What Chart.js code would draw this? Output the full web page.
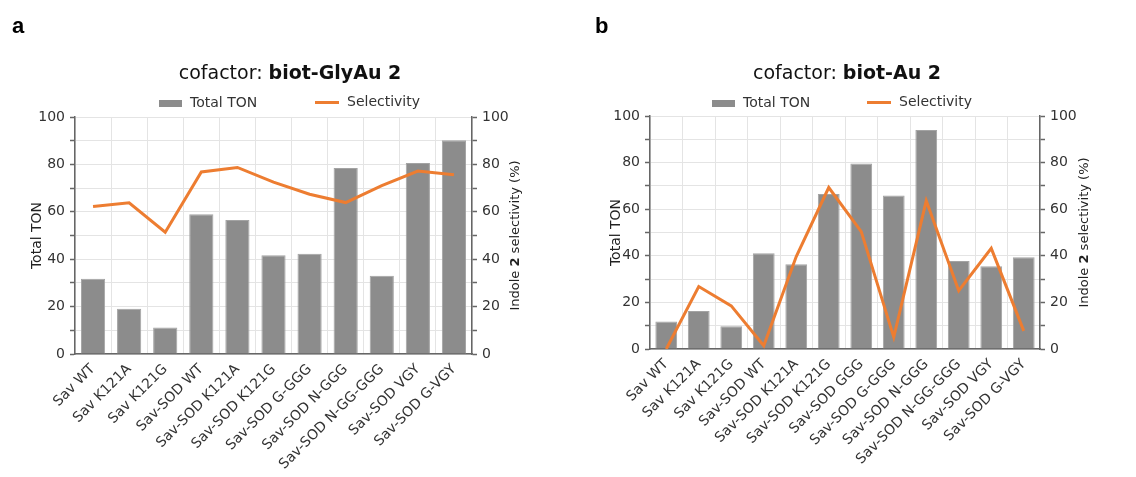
<!DOCTYPE html>
<html>
<head>
<meta charset="utf-8">
<script src="https://cdn.jsdelivr.net/npm/chart.js@4.4.1/dist/chart.umd.min.js"></script>
<style>
  html, body { margin: 0; padding: 0; background: #fff; }
  #wrap { position: relative; width: 1136px; height: 477px; overflow: hidden; }
  .panel { position: absolute; top: 0; }
</style>
</head>
<body>
<div id="wrap">
  <div class="panel" style="left:0px"><canvas id="chartA" width="565" height="477"></canvas></div>
  <div class="panel" style="left:565px"><canvas id="chartB" width="571" height="477"></canvas></div>
</div>
<script>
// ---- data ----
const categoriesA = ["Sav WT", "Sav K121A", "Sav K121G", "Sav-SOD WT", "Sav-SOD K121A", "Sav-SOD K121G",
  "Sav-SOD G-GGG", "Sav-SOD N-GGG", "Sav-SOD N-GG-GGG", "Sav-SOD VGY", "Sav-SOD G-VGY"];
const tonA = [31.7, 19.1, 11.2, 59.0, 56.5, 41.7, 42.3, 78.5, 33.0, 80.6, 90.2];
const selectivityA = [62.2, 63.8, 51.4, 76.8, 78.7, 72.5, 67.4, 63.9, 71.0, 77.2, 75.6];

const categoriesB = ["Sav WT", "Sav K121A", "Sav K121G", "Sav-SOD WT", "Sav-SOD K121A", "Sav-SOD K121G",
  "Sav-SOD GGG", "Sav-SOD G-GGG", "Sav-SOD N-GGG", "Sav-SOD N-GG-GGG", "Sav-SOD VGY", "Sav-SOD G-VGY"];
const tonB = [11.8, 16.3, 9.8, 41.1, 36.4, 66.5, 79.6, 65.9, 94.0, 37.8, 35.5, 39.4];
const selectivityB = [0.0, 26.8, 18.5, 1.4, 39.7, 69.3, 50.4, 5.1, 63.6, 25.0, 43.2, 7.8];

const axisMin = 0, axisMax = 100, tickStep = 10, labelStep = 20;

const FONT = "'DejaVu Sans', Verdana, sans-serif";
const barColor = "#8c8c8c";
const lineColor = "#ed7d31";
const gridColor = "#e4e4e4";
const axisColor = "#666666";
const textColor = "#333333";

// draw a run of text pieces (some bold) centred on x,y
function drawRich(ctx, parts, x, y, size) {
  let total = 0;
  parts.forEach(p => {
    ctx.font = (p.bold ? "bold " : "") + size + "px " + FONT;
    p.w = ctx.measureText(p.t).width;
    total += p.w;
  });
  let cx = x - total / 2;
  ctx.textAlign = "left";
  ctx.textBaseline = "middle";
  parts.forEach(p => {
    ctx.font = (p.bold ? "bold " : "") + size + "px " + FONT;
    ctx.fillText(p.t, cx, y);
    cx += p.w;
  });
}

const decor = {
  id: "decor",
  afterDraw(chart) {
    const o = chart.options.plugins.decor;
    const ctx = chart.ctx;
    const area = chart.chartArea;
    ctx.save();

    // panel letter
    ctx.fillStyle = "#000";
    ctx.font = "bold 22px 'Liberation Sans', Arial, sans-serif";
    ctx.textAlign = "left";
    ctx.textBaseline = "alphabetic";
    ctx.fillText(o.letter, o.letterX, 33);

    // title
    ctx.fillStyle = "#111";
    drawRich(ctx, [{ t: "cofactor: " }, { t: o.cofactor, bold: true }], o.titleX, 74, 19);

    // legend
    const ds = chart.data.datasets;
    ctx.fillStyle = ds[0].backgroundColor;
    ctx.fillRect(o.legX1, 100, 23, 7);
    ctx.strokeStyle = ds[1].borderColor;
    ctx.lineWidth = 3;
    ctx.beginPath();
    ctx.moveTo(o.legX2, 102.5);
    ctx.lineTo(o.legX2 + 24, 102.5);
    ctx.stroke();
    ctx.fillStyle = textColor;
    ctx.font = "14px " + FONT;
    ctx.textAlign = "left";
    ctx.textBaseline = "middle";
    ctx.fillText(ds[0].label, o.legX1 + 31, 103);
    ctx.fillText(ds[1].label, o.legX2 + 32, 102);

    // axis titles
    const midY = (area.top + area.bottom) / 2;
    ctx.fillStyle = "#222";
    ctx.save();
    ctx.translate(o.leftTitleX, midY);
    ctx.rotate(-Math.PI / 2);
    drawRich(ctx, [{ t: "Total TON" }], 0, 0, 14);
    ctx.restore();
    ctx.save();
    ctx.translate(o.rightTitleX, midY);
    ctx.rotate(-Math.PI / 2);
    drawRich(ctx, [{ t: "Indole " }, { t: "2", bold: true }, { t: " selectivity (%)" }], 0, 0, 13);
    ctx.restore();

    ctx.restore();
  }
};

function yScale(position, width, onChart) {
  return {
    type: "linear",
    position: position,
    min: axisMin,
    max: axisMax,
    afterFit: s => { s.width = width; },
    ticks: {
      stepSize: tickStep,
      padding: 5,
      color: textColor,
      font: { family: FONT, size: 14 },
      callback: v => (v % labelStep === 0 ? v : "")
    },
    grid: {
      drawOnChartArea: onChart,
      color: gridColor,
      lineWidth: 1,
      tickLength: 5,
      tickColor: axisColor,
      tickWidth: 1.5
    },
    border: { color: axisColor, width: 1.5 }
  };
}

function makeChart(id, categories, ton, sel, dims) {
  return new Chart(document.getElementById(id), {
    data: {
      labels: categories,
      datasets: [
        {
          type: "bar",
          label: "Total TON",
          data: ton,
          yAxisID: "y",
          backgroundColor: barColor,
          borderColor: "#a3a3a3",
          borderWidth: 1,
          categoryPercentage: 1.0,
          barPercentage: 0.67,
          order: 1
        },
        {
          type: "line",
          label: "Selectivity",
          data: sel,
          yAxisID: "y1",
          borderColor: lineColor,
          backgroundColor: lineColor,
          borderWidth: 3,
          pointRadius: 0,
          tension: 0,
          order: 0
        }
      ]
    },
    options: {
      responsive: false,
      animation: false,
      layout: { padding: { top: dims.top, left: 0, right: 0, bottom: 0 } },
      scales: {
        x: {
          offset: true,
          afterFit: s => { s.height = dims.xHeight; },
          ticks: {
            autoSkip: false,
            maxRotation: 45,
            minRotation: 45,
            padding: 4,
            color: textColor,
            font: { family: FONT, size: 14 }
          },
          grid: { offset: true, color: gridColor, drawTicks: true, tickLength: 3, tickColor: "rgba(0,0,0,0)" },
          border: { color: axisColor, width: 1.5 }
        },
        y: yScale("left", dims.left, true),
        y1: yScale("right", dims.right, false)
      },
      plugins: {
        legend: { display: false },
        title: { display: false },
        tooltip: { enabled: false },
        decor: dims.decor
      }
    },
    plugins: [decor]
  });
}

makeChart("chartA", categoriesA, tonA, selectivityA, {
  top: 117, left: 75, right: 93, xHeight: 123,
  decor: { letter: "a", letterX: 12, cofactor: "biot-GlyAu 2", titleX: 290,
           legX1: 159, legX2: 315, leftTitleX: 37, rightTitleX: 516 }
});

makeChart("chartB", categoriesB, tonB, selectivityB, {
  top: 116, left: 85, right: 96, xHeight: 128,
  decor: { letter: "b", letterX: 30, cofactor: "biot-Au 2", titleX: 282,
           legX1: 147, legX2: 302, leftTitleX: 51, rightTitleX: 520 }
});
</script>
</body>
</html>
